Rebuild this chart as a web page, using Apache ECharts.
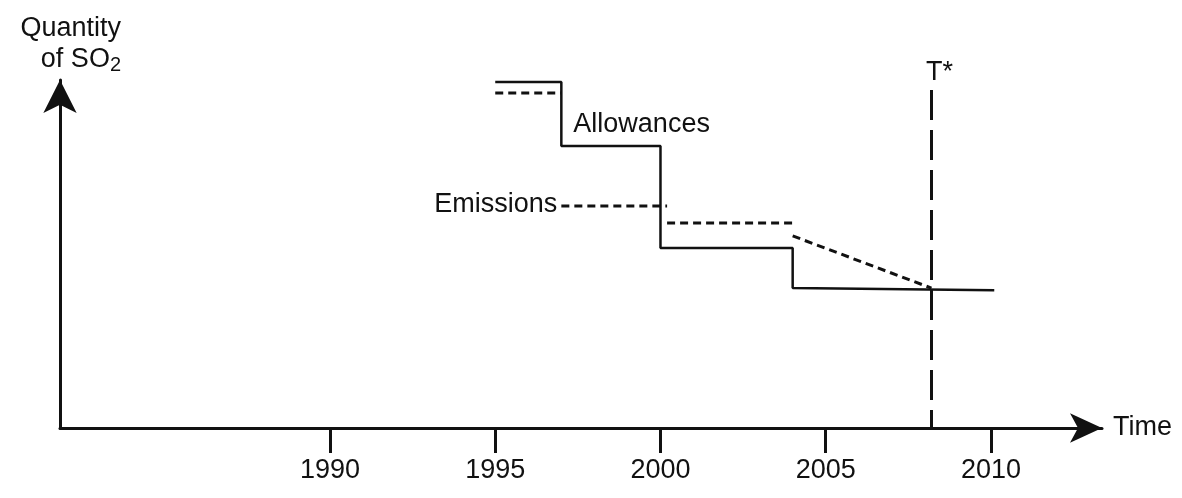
<!DOCTYPE html>
<html>
<head>
<meta charset="utf-8">
<title>SO2 allowances and emissions</title>
<script src="https://cdn.jsdelivr.net/npm/echarts@6/dist/echarts.min.js"></script>
<style>
  html, body { margin: 0; padding: 0; background: #fff; }
  #chart { width: 1182px; height: 498px; }
</style>
</head>
<body>
<div id="chart"></div>
<script>
// tick labels on the time axis
const tickYears = [1990, 1995, 2000, 2005, 2010]

// allowances (solid step line)
const allowanceX = [1995, 1997, 1997, 2000, 2000, 2004, 2004, 2010.1]
const allowanceY = [99.4, 99.4, 81.0, 81.0, 51.7, 51.7, 40.2, 39.6]

// emissions (dashed), pieces split by null
const emissionX = [1995, 1997, null, 1997, 2000.2, null, 2000.2, 2004, null, 2004, 2008.2]
const emissionY = [96.3, 96.3, null, 63.8, 63.8, null, 58.9, 58.9, null, 55.2, 40.2]

// T* marker
const tStarYear = 2008.2
const tStarTop = 97.1

// text labels placed on the chart
const noteNames = ['Allowances', 'Emissions', 'T*']
const noteX = [1997, 1997, 2008.2]
const noteY = [87.1, 64.1, 97.1]

const ink = '#111'
const font = "'Liberation Sans', Arial, Helvetica, sans-serif"

// break emissions into separate segments
function splitSegments(xs, ys) {
  const out = []
  let cur = []
  xs.forEach((x, i) => {
    if (x === null) {
      if (cur.length) out.push(cur)
      cur = []
    } else {
      cur.push([x, ys[i]])
    }
  })
  if (cur.length) out.push(cur)
  return out
}

const emissionSeries = splitSegments(emissionX, emissionY).map((seg, i) => ({
  name: 'Emissions ' + i,
  type: 'line',
  data: seg,
  symbol: 'none',
  silent: true,
  lineStyle: { color: ink, width: 3, type: [8, 5] }
}))

const notePos = ['right', 'left', 'top']
const noteDist = [12, 4, 4]
const noteOffset = [[0, 0], [0, 0], [8, 0]]

const chart = echarts.init(document.getElementById('chart'))

chart.setOption({
  animation: false,
  backgroundColor: '#fff',
  textStyle: { fontFamily: font },
  title: {
    text: '{a|Quantity}\n{a|of SO}{b|2}',
    left: 116,
    top: 8,
    textAlign: 'right',
    textStyle: {
      fontWeight: 'normal',
      rich: {
        a: { fontSize: 27, color: ink, fontFamily: font, fontWeight: 'normal', lineHeight: 31 },
        b: { fontSize: 20, color: ink, fontFamily: font, fontWeight: 'normal', verticalAlign: 'bottom', lineHeight: 31 }
      }
    }
  },
  grid: { left: 60, right: 80, top: 80, bottom: 70 },
  xAxis: {
    type: 'value',
    min: 1981.83,
    max: 2013.36,
    name: 'Time',
    nameLocation: 'end',
    nameGap: 11,
    nameTextStyle: { fontSize: 27, color: ink, fontFamily: font },
    splitLine: { show: false },
    axisLine: {
      show: true,
      symbol: ['none', 'arrow'],
      symbolSize: [22, 32],
      lineStyle: { color: ink, width: 3 }
    },
    axisTick: {
      show: true,
      customValues: tickYears,
      length: 25,
      lineStyle: { color: ink, width: 3 }
    },
    axisLabel: {
      customValues: tickYears,
      margin: 29,
      fontSize: 27,
      color: ink,
      fontFamily: font,
      formatter: v => String(v)
    }
  },
  yAxis: {
    type: 'value',
    min: 0,
    max: 100,
    splitLine: { show: false },
    axisTick: { show: false },
    axisLabel: { show: false },
    axisLine: {
      show: true,
      symbol: ['none', 'arrow'],
      symbolSize: [25, 33],
      lineStyle: { color: ink, width: 3 }
    }
  },
  series: [
    {
      name: 'Allowances',
      type: 'line',
      data: allowanceX.map((x, i) => [x, allowanceY[i]]),
      symbol: 'none',
      silent: true,
      lineStyle: { color: ink, width: 2.5 }
    },
    ...emissionSeries,
    {
      name: 'T*',
      type: 'line',
      data: [[tStarYear, tStarTop], [tStarYear, 0]],
      symbol: 'none',
      silent: true,
      lineStyle: { color: ink, width: 3, type: [30, 10] }
    },
    {
      name: 'notes',
      type: 'scatter',
      symbolSize: 0,
      silent: true,
      itemStyle: { opacity: 1, color: ink },
      data: noteNames.map((n, i) => ({
        name: n,
        value: [noteX[i], noteY[i]],
        label: {
          show: true,
          position: notePos[i],
          distance: noteDist[i],
          offset: noteOffset[i],
          formatter: '{b}',
          fontSize: 27,
          color: ink,
          opacity: 1,
          fontFamily: font
        }
      }))
    }
  ]
})
</script>
</body>
</html>
